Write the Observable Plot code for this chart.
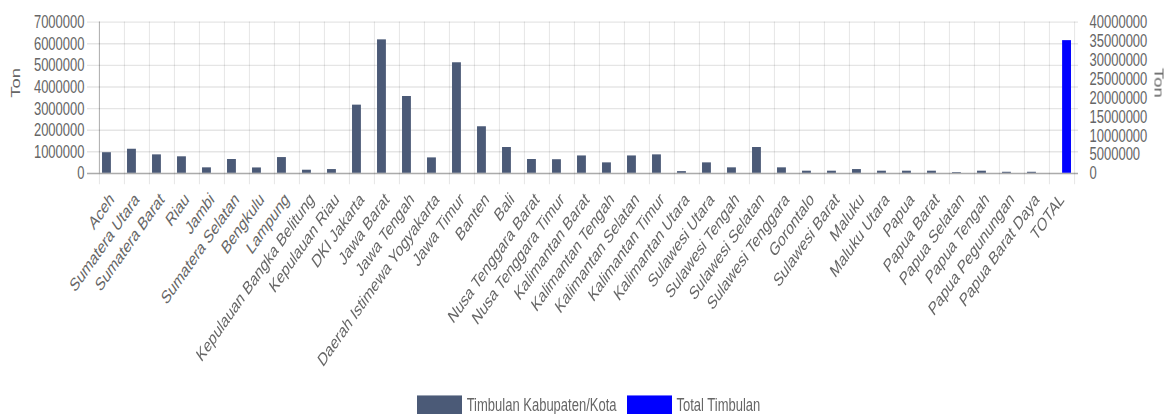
<!DOCTYPE html>
<html>
<head>
<meta charset="utf-8">
<script src="https://cdn.jsdelivr.net/npm/d3@7"></script>
<script src="https://cdn.jsdelivr.net/npm/@observablehq/plot@0.6"></script>
<style>
  html, body { margin: 0; padding: 0; background: #fff; }
  #outer { width: 1167px; height: 414px; overflow: hidden; }
  #wrap { width: 1167px; transform: scaleY(1.4276); transform-origin: 0 0; font-family: "Liberation Sans", Arial, sans-serif; }
  #legend { display: flex; justify-content: center; align-items: center; height: 16px; padding-top: 3px; padding-left: 10px; font-size: 13px; color: #666; }
  .item { display: flex; align-items: center; margin: 0 5px; }
  .box { width: 45px; height: 13px; margin-right: 5px; }
</style>
</head>
<body>
<div id="outer">
<div id="wrap">
  <div id="chart"></div>
  <div id="legend"></div>
</div>
</div>
<script>
const provinces = ["Aceh","Sumatera Utara","Sumatera Barat","Riau","Jambi","Sumatera Selatan","Bengkulu","Lampung","Kepulauan Bangka Belitung","Kepulauan Riau","DKI Jakarta","Jawa Barat","Jawa Tengah","Daerah Istimewa Yogyakarta","Jawa Timur","Banten","Bali","Nusa Tenggara Barat","Nusa Tenggara Timur","Kalimantan Barat","Kalimantan Tengah","Kalimantan Selatan","Kalimantan Timur","Kalimantan Utara","Sulawesi Utara","Sulawesi Tengah","Sulawesi Selatan","Sulawesi Tenggara","Gorontalo","Sulawesi Barat","Maluku","Maluku Utara","Papua","Papua Barat","Papua Selatan","Papua Tengah","Papua Pegunungan","Papua Barat Daya"];
const timbulan = [950000,1110000,850000,760000,250000,635000,245000,725000,140000,170000,3150000,6170000,3550000,710000,5110000,2150000,1190000,635000,625000,800000,480000,800000,850000,75000,480000,250000,1190000,250000,95000,95000,170000,95000,95000,95000,30000,95000,45000,45000];
const totalLabel = "TOTAL";
const totalTimbulan = 35050000;
const leftTicks = [0,1000000,2000000,3000000,4000000,5000000,6000000,7000000];
const rightTicks = [0,5000000,10000000,15000000,20000000,25000000,30000000,35000000,40000000];
const seriesNames = ["Timbulan Kabupaten/Kota","Total Timbulan"];
const seriesColors = ["#4b5a77","#0000ff"];
const axisTitle = "Ton";

const categories = [...provinces, totalLabel];
const leftMax = 7000000, rightMax = 40000000;
const toLeft = v => v * leftMax / rightMax;

const W = 1167, H = 272, mL = 95, mR = 89, mT = 15, mB = 151;
const bw = (W - mL - mR) / categories.length;

const provData = provinces.map((p, i) => ({name: p, value: timbulan[i]}));
const totalData = [{name: totalLabel, value: toLeft(totalTimbulan)}];

const font = "Liberation Sans, Arial, sans-serif";
const chart = Plot.plot({
  width: W, height: H,
  marginLeft: mL, marginRight: mR, marginTop: mT, marginBottom: mB,
  style: {fontFamily: font, fontSize: "13px", background: "#fff", overflow: "visible"},
  x: {type: "band", domain: categories, padding: 0, axis: null},
  y: {domain: [0, leftMax], axis: null},
  marks: [
    Plot.ruleY(leftTicks, {stroke: "#000", strokeOpacity: 0.1, insetLeft: -8}),
    Plot.ruleX(categories, {stroke: "#000", strokeOpacity: 0.1, dx: -bw / 2, insetBottom: -8}),
    Plot.ruleX([totalLabel], {stroke: "#000", strokeOpacity: 0.1, dx: bw / 2, insetBottom: -8}),
    Plot.ruleX([categories[0]], {stroke: "#000", strokeOpacity: 0.25, dx: -bw / 2}),
    Plot.barY(provData, {x: "name", y: "value", fill: seriesColors[0], insetLeft: bw * 0.12, insetRight: bw * 0.52}),
    Plot.barY(totalData, {x: "name", y: "value", fill: seriesColors[1], insetLeft: bw * 0.52, insetRight: bw * 0.12}),
    Plot.ruleY([0], {stroke: "#000", strokeOpacity: 0.25, insetLeft: -8}),
    Plot.axisY(leftTicks, {anchor: "left", tickSize: 0, tickPadding: 11, tickFormat: d3.format("d"), fill: "#666", label: null, fontSize: 13}),
    Plot.axisY(rightTicks.map(toLeft), {anchor: "right", tickSize: 0, tickPadding: 11, tickFormat: d => String(Math.round(d * rightMax / leftMax)), fill: "#666", label: null, fontSize: 13}),
    Plot.axisX({anchor: "bottom", tickSize: 0, tickPadding: 16, tickRotate: -45, fill: "#666", label: null, fontSize: 13}),
    Plot.text([axisTitle], {frameAnchor: "left", dx: -80, rotate: -90, fill: "#666", fontSize: 13}),
    Plot.text([axisTitle], {frameAnchor: "right", dx: 80, rotate: 90, fill: "#666", fontSize: 13})
  ]
});
document.getElementById("chart").appendChild(chart);

const legend = document.getElementById("legend");
seriesNames.forEach((n, i) => {
  const it = document.createElement("div");
  it.className = "item";
  const b = document.createElement("div");
  b.className = "box";
  b.style.background = seriesColors[i];
  const t = document.createElement("span");
  t.textContent = n;
  it.appendChild(b); it.appendChild(t);
  legend.appendChild(it);
});
</script>
</body>
</html>
